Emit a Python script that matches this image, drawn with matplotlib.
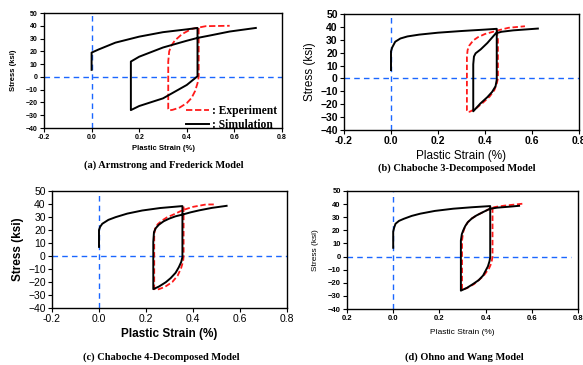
import matplotlib
matplotlib.use("Agg")
import matplotlib.pyplot as plt

plt.rcParams['font.family'] = ['Liberation Sans', 'DejaVu Sans']

# ---- data: plastic strain [%], stress [ksi] ----
# (a) Armstrong and Frederick
a_sim_x = [0, 0, 0.03, 0.10, 0.20, 0.30, 0.40, 0.445, 0.445, 0.40, 0.30, 0.20, 0.165,
           0.165, 0.20, 0.30, 0.40, 0.445, 0.50, 0.58, 0.69]
a_sim_y = [5.5, 19, 21.5, 26.8, 31.5, 35, 37.2, 38.3, 0.5, -6.3, -16.8, -22.8, -26,
           12, 15.8, 23, 28.3, 30.5, 32.5, 35.5, 38.3]
a_exp_x = [0.45, 0.45, 0.445, 0.435, 0.42, 0.40, 0.37, 0.34, 0.325, 0.322, 0.322, 0.326,
           0.335, 0.35, 0.38, 0.42, 0.48, 0.58]
a_exp_y = [38.3, 0, -5, -11, -16.5, -20.5, -24, -25.8, -26.2, -25, 12, 20, 24.5, 28.5,
           33.5, 37.5, 39.7, 40]

# (b) Chaboche 3-decomposed
b_sim_x = [0, 0, 0.005, 0.018, 0.04, 0.07, 0.12, 0.2, 0.3, 0.4, 0.45, 0.45, 0.445, 0.43,
           0.41, 0.38, 0.35, 0.35, 0.353, 0.36, 0.382, 0.41, 0.446, 0.47, 0.52, 0.58, 0.625]
b_sim_y = [6.5, 21, 24, 28.5, 31, 32.6, 34, 35.5, 36.8, 37.9, 38.5, -1, -6, -10.5,
           -14.5, -19.5, -25.5, 11, 17, 19.5, 22.6, 27.5, 35, 36.2, 37.3, 38.1, 38.7]
b_exp_x = [0.45, 0.455, 0.455, 0.45, 0.44, 0.42, 0.39, 0.36, 0.335, 0.325, 0.323, 0.323,
           0.326, 0.333, 0.35, 0.37, 0.4, 0.43, 0.46, 0.5, 0.57]
b_exp_y = [37.5, 30, 0, -4, -9, -14, -19, -23.5, -25.8, -26, -25, 17, 22, 25.5, 29.5,
           32, 34.5, 36, 37.5, 39.3, 40.5]

# (c) Chaboche 4-decomposed
c_sim_x = [0, 0, 0.005, 0.014, 0.04, 0.071, 0.12, 0.184, 0.26, 0.355, 0.355, 0.35, 0.34,
           0.326, 0.305, 0.284, 0.255, 0.231, 0.231, 0.234, 0.242, 0.255, 0.275, 0.298,
           0.325, 0.354, 0.39, 0.426, 0.48, 0.543]
c_sim_y = [7, 20, 22.5, 24.8, 27.8, 29.9, 32.6, 35, 36.9, 38.4, -0.8, -4.5, -8.5, -12.9,
           -17, -20.2, -23.5, -25.5, 11, 18.4, 21.5, 24.1, 26.7, 28.7, 30.5, 31.8, 33.6,
           35.1, 37, 38.6]
c_exp_x = [0.36, 0.36, 0.358, 0.35, 0.335, 0.312, 0.28, 0.255, 0.24, 0.235, 0.235, 0.238,
           0.25, 0.27, 0.29, 0.312, 0.33, 0.354, 0.397, 0.454, 0.5]
c_exp_y = [38, 0, -4, -9, -15, -20, -23.8, -25.5, -26, -25, 15, 21, 24.5, 27.5, 29.8,
           31.5, 33, 35.1, 37.7, 39.6, 39.7]

# (d) Ohno and Wang
d_sim_x = [0, 0, 0.004, 0.01, 0.025, 0.046, 0.08, 0.117, 0.18, 0.26, 0.34, 0.42, 0.42,
           0.417, 0.41, 0.389, 0.37, 0.346, 0.32, 0.293, 0.293, 0.297, 0.303, 0.312,
           0.323, 0.34, 0.36, 0.39, 0.418, 0.45, 0.5, 0.545]
d_sim_y = [6.7, 19, 22, 25, 27.2, 28.8, 31, 32.7, 34.8, 36.5, 37.6, 38.5, -0.5, -3.5,
           -7.5, -14.5, -18, -20.9, -23.8, -26, 12.2, 17, 19.9, 23.3, 26.2, 29, 31.3, 34,
           36.4, 37.3, 38, 38.7]
d_exp_x = [0.43, 0.43, 0.425, 0.415, 0.39, 0.35, 0.32, 0.298, 0.298, 0.302, 0.31, 0.323,
           0.34, 0.36, 0.39, 0.418, 0.44, 0.48, 0.56]
d_exp_y = [37.5, 0, -5, -9, -15, -21, -24, -25.5, 12, 18, 22.5, 26.2, 29, 31.3, 34, 36.4,
           37.8, 38.8, 40.3]

x_ticks = [-0.2, 0.0, 0.2, 0.4, 0.6, 0.8]
y_ticks = [-40, -30, -20, -10, 0, 10, 20, 30, 40, 50]
d_xlabels = ["0.2", "0.0", "0.2", "0.4", "0.6", "0.8"]
captions = ["(a) Armstrong and Frederick Model", "(b) Chaboche 3-Decomposed Model",
            "(c) Chaboche 4-Decomposed Model", "(d) Ohno and Wang Model"]

W, H = 583, 365
fig = plt.figure(figsize=(W / 100, H / 100), dpi=100)

blue = "#1a66ff"
red = "#ff1a1a"


def add_ax(l, t, r, b):
    # pixel box -> figure fraction
    return fig.add_axes([l / W, 1 - b / H, (r - l) / W, (b - t) / H])


def setup(ax, tick_fs, tick_bold, lab_fs, lab_bold, ylab_pad, xlab_pad):
    ax.set_xlim(-0.2, 0.8)
    ax.set_ylim(-40, 50)
    ax.set_xticks(x_ticks)
    ax.set_yticks(y_ticks)
    ax.set_xticklabels([f"{v:.1f}" for v in x_ticks])
    ax.tick_params(direction="out", length=3, width=0.8, labelsize=tick_fs, pad=1.5)
    for lab in ax.get_xticklabels() + ax.get_yticklabels():
        lab.set_fontweight("bold" if tick_bold else "normal")
    w = "bold" if lab_bold else "normal"
    ax.set_xlabel("Plastic Strain (%)", fontsize=lab_fs, fontweight=w, labelpad=xlab_pad)
    ax.set_ylabel("Stress (ksi)", fontsize=lab_fs, fontweight=w, labelpad=ylab_pad)
    for s in ax.spines.values():
        s.set_linewidth(1.0)


def draw(ax, sx, sy, ex, ey, hline_end=0.8, vline_top=50, dash=(3, 1.5)):
    ax.plot([-0.2, hline_end], [0, 0], ls=(0, (4, 3)), color=blue, lw=1.0, zorder=1)
    ax.plot([0, 0], [-40, vline_top], ls=(0, (4, 3)), color=blue, lw=1.0, zorder=1)
    ax.plot(ex, ey, ls=(0, dash), color=red, lw=1.3, zorder=2, label=": Experiment")
    ax.plot(sx, sy, color="black", lw=1.4, zorder=3, label=": Simulation")


# (a)
ax1 = add_ax(44, 13, 282, 128)
setup(ax1, 5, True, 5.5, True, 6, 3)
draw(ax1, a_sim_x, a_sim_y, a_exp_x, a_exp_y, dash=(3.5, 1.5))
h, l = ax1.get_legend_handles_labels()
ax1.legend(h, l, loc="lower right", bbox_to_anchor=(1.0, -0.065), frameon=False,
           handlelength=2.0, borderaxespad=0, labelspacing=0.2, handletextpad=0.3,
           prop={"family": "Liberation Serif", "weight": "bold", "size": 8.3})

# (b)
ax2 = add_ax(344, 14, 579, 130)
setup(ax2, 7.5, True, 8.5, False, 3, 3)
draw(ax2, b_sim_x, b_sim_y, b_exp_x, b_exp_y)

# (c)
ax3 = add_ax(52, 191, 287, 308)
setup(ax3, 7.5, False, 8.5, True, 3, 3)
draw(ax3, c_sim_x, c_sim_y, c_exp_x, c_exp_y)

# (d)
ax4 = add_ax(347, 191, 578, 309)
setup(ax4, 5.5, True, 6, False, 6, 5)
ax4.set_xticklabels(d_xlabels)
for lab in ax4.get_xticklabels():
    lab.set_fontweight("bold")
draw(ax4, d_sim_x, d_sim_y, d_exp_x, d_exp_y, hline_end=0.77, vline_top=49)

# captions
cap_pos = [(164, 165), (457, 168), (161, 357), (464, 357)]
for text, (cx, cy) in zip(captions, cap_pos):
    fig.text(cx / W, 1 - cy / H, text, ha="center", va="center",
             family="Liberation Serif", fontweight="bold", fontsize=7.5)

fig.savefig("out.png", dpi=100)
